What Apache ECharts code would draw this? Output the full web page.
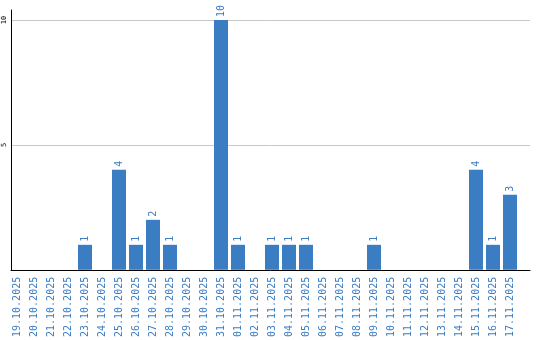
<!DOCTYPE html>
<html><head><meta charset="utf-8">
<script src="https://cdn.jsdelivr.net/npm/echarts@6/dist/echarts.min.js"></script>
<style>html,body{margin:0;padding:0;background:#fff}#c{width:540px;height:340px}</style>
</head><body><div id="c"></div>
<script>
const categories = ['19.10.2025','20.10.2025','21.10.2025','22.10.2025','23.10.2025','24.10.2025','25.10.2025','26.10.2025','27.10.2025','28.10.2025','29.10.2025','30.10.2025','31.10.2025','01.11.2025','02.11.2025','03.11.2025','04.11.2025','05.11.2025','06.11.2025','07.11.2025','08.11.2025','09.11.2025','10.11.2025','11.11.2025','12.11.2025','13.11.2025','14.11.2025','15.11.2025','16.11.2025','17.11.2025'];
const values = [0,0,0,0,1,0,4,1,2,1,0,0,10,1,0,1,1,1,0,0,0,1,0,0,0,0,0,4,1,3];
const yTicks = [0,5,10];

const blue = '#3b7dc3';
const chart = echarts.init(document.getElementById('c'));
chart.setOption({
  animation: false,
  grid: [
    {left: 8.5, width: 510, top: 10, bottom: 70},
    {left: 11, right: 10, top: 10, bottom: 70}
  ],
  xAxis: [
    {type: 'category', gridIndex: 0, data: categories,
     axisLine: {show: false}, axisTick: {show: false},
     axisLabel: {rotate: 90, interval: 0, margin: 7, color: blue,
       fontFamily: 'DejaVu Sans Mono', fontSize: 10}},
    {type: 'value', gridIndex: 1, min: 0, max: 1,
     axisLine: {show: true, lineStyle: {color: '#000', width: 1}},
     axisTick: {show: false}, axisLabel: {show: false}, splitLine: {show: false}}
  ],
  yAxis: [
    {type: 'value', gridIndex: 0, min: 0, max: 10.4, show: false},
    {type: 'value', gridIndex: 1, min: 0, max: 10.4, interval: 5,
     axisLine: {show: true, lineStyle: {color: '#000', width: 1}},
     axisTick: {show: false},
     splitLine: {show: true, showMinLine: false, showMaxLine: false, lineStyle: {color: '#c8c8c8', width: 1}},
     axisLabel: {rotate: 90, margin: 3, color: '#000', fontFamily: 'DejaVu Sans Mono', fontSize: 7,
       showMinLabel: false, showMaxLabel: false,
       formatter: v => yTicks.includes(v) ? String(v) : ''}}
  ],
  series: [{
    type: 'bar', xAxisIndex: 0, yAxisIndex: 0, data: values, barWidth: 14,
    itemStyle: {color: blue},
    label: {show: true, position: 'top', rotate: 90, align: 'left', verticalAlign: 'middle',
      distance: 3, color: blue, fontFamily: 'DejaVu Sans Mono', fontSize: 10,
      formatter: p => p.value ? String(p.value) : ''}
  }]
});
</script></body></html>
